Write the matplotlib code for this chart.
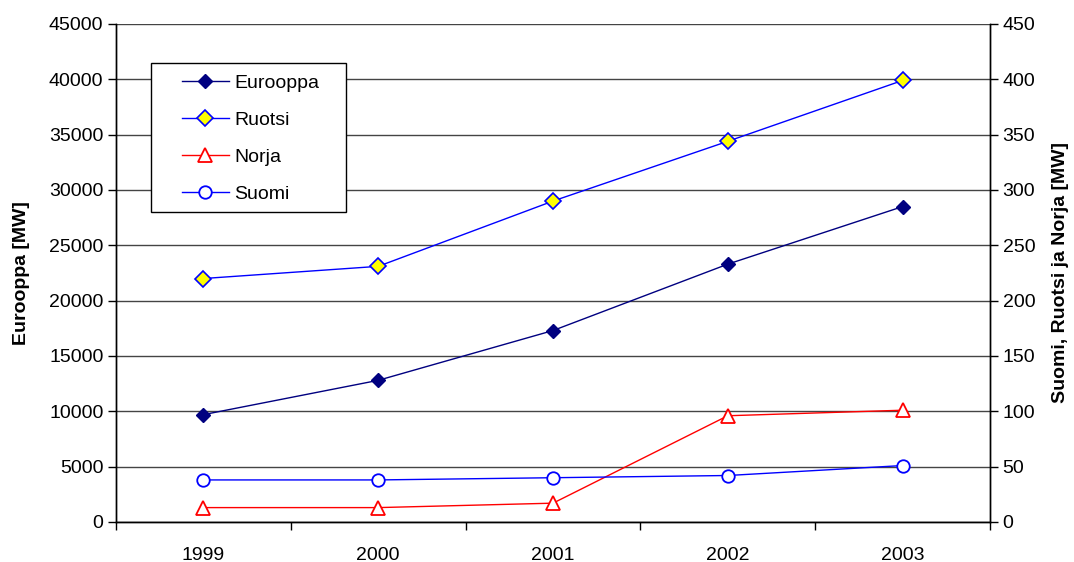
import matplotlib.pyplot as plt
from matplotlib.patches import Rectangle

plt.rcParams['font.family'] = ['Liberation Sans', 'DejaVu Sans']

# Tuulivoimakapasiteetti vuosittain
vuodet = ['1999', '2000', '2001', '2002', '2003']
eurooppa = [9700, 12800, 17300, 23300, 28500]
ruotsi = [220, 231, 290, 344, 399]
norja = [13, 13, 17, 96, 101]
suomi = [38, 38, 40, 42, 51]

fig = plt.figure(figsize=(10.74, 5.62), dpi=100)
ax = fig.add_axes([0.108, 0.0712, 0.8138, 0.8861])
ax2 = ax.twinx()

x = range(len(vuodet))

# Vasen akseli: Eurooppa
l1, = ax.plot(x, eurooppa, color='#000080', lw=1.0, marker='D', ms=7,
              mfc='#000080', mec='#000080', label='Eurooppa', zorder=3)

# Oikea akseli: Pohjoismaat
l2, = ax2.plot(x, ruotsi, color='#0000ff', lw=1.0, marker='D', ms=8,
               mfc='#ffff00', mec='#0000ff', mew=1.2, label='Ruotsi')
l3, = ax2.plot(x, norja, color='#ff0000', lw=1.0, marker='^', ms=9.5,
               mfc='white', mec='#ff0000', mew=1.3, label='Norja')
l4, = ax2.plot(x, suomi, color='#0000ff', lw=1.0, marker='o', ms=9,
               mfc='white', mec='#0000ff', mew=1.3, label='Suomi')

ax.set_xlim(-0.5, 4.5)
ax.set_ylim(0, 45000)
ax2.set_ylim(0, 450)
ax.set_yticks(range(0, 45001, 5000))
ax2.set_yticks(range(0, 451, 50))

# Vuosiluvut keskellä, tikit luokkien välissä
ax.set_xticks([i - 0.5 for i in range(6)])
ax.set_xticklabels([])
ax.set_xticks(list(x), minor=True)
ax.set_xticklabels(vuodet, minor=True)
ax.tick_params(axis='x', which='minor', length=0, pad=18, labelsize=14)
ax.tick_params(axis='x', which='major', length=6, direction='out', width=1)
ax.tick_params(axis='y', length=6, direction='out', width=1, labelsize=14, pad=3)
ax2.tick_params(axis='y', length=6, direction='out', width=1, labelsize=14, pad=3)

ax.yaxis.grid(True, color='#444444', lw=1)
ax.set_axisbelow(True)

for a in (ax, ax2):
    a.spines['top'].set_visible(False)
    for s in ('left', 'right', 'bottom'):
        a.spines[s].set_linewidth(1)

ax.set_ylabel('Eurooppa [MW]', fontsize=14, fontweight='bold')
ax2.set_ylabel('Suomi, Ruotsi ja Norja [MW]', fontsize=14, fontweight='bold')
ax.yaxis.set_label_coords(-0.0984, 0.5)
ax2.yaxis.set_label_coords(1.0709, 0.5)

# Selitteen kehys ja merkinnät
fig.patches.append(Rectangle((0.1406, 0.6228), 0.1816, 0.2651,
                             transform=fig.transFigure, facecolor='white',
                             edgecolor='black', lw=1, zorder=4))
fig.legend(handles=[l1, l2, l3, l4], loc='upper left',
           bbox_to_anchor=(0.1695, 0.8683), fontsize=14, frameon=False,
           borderpad=0, labelspacing=1.0, handlelength=2.4,
           handletextpad=0.3, borderaxespad=0)

plt.savefig('out.png', dpi=100)
